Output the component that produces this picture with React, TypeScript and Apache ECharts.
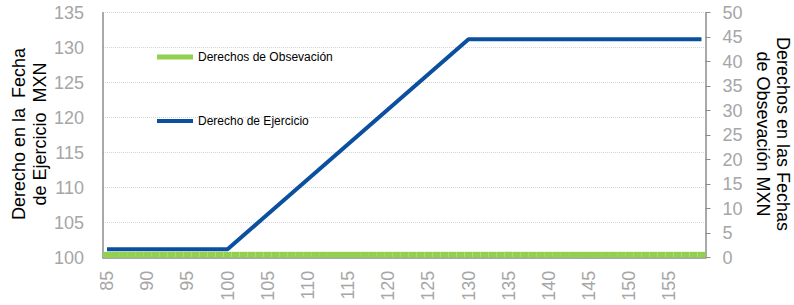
import React, { useEffect, useRef } from "react";
import * as echarts from "echarts";

const categories: string[] = [
  "85", "86", "87", "88", "89", "90", "91", "92", "93", "94",
  "95", "96", "97", "98", "99", "100", "101", "102", "103", "104",
  "105", "106", "107", "108", "109", "110", "111", "112", "113", "114",
  "115", "116", "117", "118", "119", "120", "121", "122", "123", "124",
  "125", "126", "127", "128", "129", "130", "131", "132", "133", "134",
  "135", "136", "137", "138", "139", "140", "141", "142", "143", "144",
  "145", "146", "147", "148", "149", "150", "151", "152", "153", "154",
  "155", "156", "157", "158", "159",
];

const derechoEjercicio: number[] = [
  101.2, 101.2, 101.2, 101.2, 101.2, 101.2, 101.2, 101.2, 101.2, 101.2,
  101.2, 101.2, 101.2, 101.2, 101.2, 101.2, 102.2, 103.2, 104.2, 105.2,
  106.2, 107.2, 108.2, 109.2, 110.2, 111.2, 112.2, 113.2, 114.2, 115.2,
  116.2, 117.2, 118.2, 119.2, 120.2, 121.2, 122.2, 123.2, 124.2, 125.2,
  126.2, 127.2, 128.2, 129.2, 130.2, 131.2, 131.2, 131.2, 131.2, 131.2,
  131.2, 131.2, 131.2, 131.2, 131.2, 131.2, 131.2, 131.2, 131.2, 131.2,
  131.2, 131.2, 131.2, 131.2, 131.2, 131.2, 131.2, 131.2, 131.2, 131.2,
  131.2, 131.2, 131.2, 131.2, 131.2,
];

const derechosObservacion: number[] = [
  1.2, 1.2, 1.2, 1.2, 1.2, 1.2, 1.2, 1.2, 1.2, 1.2,
  1.2, 1.2, 1.2, 1.2, 1.2, 1.2, 1.2, 1.2, 1.2, 1.2,
  1.2, 1.2, 1.2, 1.2, 1.2, 1.2, 1.2, 1.2, 1.2, 1.2,
  1.2, 1.2, 1.2, 1.2, 1.2, 1.2, 1.2, 1.2, 1.2, 1.2,
  1.2, 1.2, 1.2, 1.2, 1.2, 1.2, 1.2, 1.2, 1.2, 1.2,
  1.2, 1.2, 1.2, 1.2, 1.2, 1.2, 1.2, 1.2, 1.2, 1.2,
  1.2, 1.2, 1.2, 1.2, 1.2, 1.2, 1.2, 1.2, 1.2, 1.2,
  1.2, 1.2, 1.2, 1.2, 1.2,
];

const seriesNames = ["Derechos de Obsevación", "Derecho de Ejercicio"];
const leftTitleLines = ["Derecho en la  Fecha", "de Ejercicio  MXN"];
const rightTitleLines = ["Derechos en las Fechas", "de Obsevación MXN"];

const FONT = "Liberation Sans, Arial, sans-serif";
const GREY_TEXT = "#a6a6a6";
const AXIS_GREY = "#8c8c8c";
const BLUE = "#0b4f9f";
const GREEN = "#92d050";

function titleText(text: string, x: number, y: number, rotation: number) {
  return {
    type: "text",
    x,
    y,
    rotation,
    style: {
      text,
      fontSize: 18,
      fontFamily: FONT,
      fill: "#000",
      align: "center",
      verticalAlign: "middle",
    },
  };
}

export default function App() {
  const ref = useRef<HTMLDivElement>(null);

  useEffect(() => {
    document.body.style.margin = "0";
    document.body.style.overflow = "hidden";
    document.documentElement.style.overflow = "hidden";
    if (!ref.current) return;
    const chart = echarts.init(ref.current, null, { renderer: "svg" });
    chart.setOption({
      animation: false,
      backgroundColor: "#ffffff",
      textStyle: { fontFamily: FONT },
      grid: { left: 103, right: 88.5, top: 12.7, bottom: 47.3, containLabel: false },
      legend: [
        {
          data: [{ name: seriesNames[0], icon: "rect" }],
          left: 157,
          top: 51,
          padding: 0,
          itemWidth: 36,
          itemHeight: 5,
          itemGap: 5,
          textStyle: { color: "#000", fontSize: 12, fontFamily: FONT },
          selectedMode: false,
        },
        {
          data: [{ name: seriesNames[1], icon: "rect" }],
          left: 157,
          top: 115,
          padding: 0,
          itemWidth: 36,
          itemHeight: 4,
          textStyle: { color: "#000", fontSize: 12, fontFamily: FONT },
          selectedMode: false,
        },
      ],
      xAxis: {
        type: "category",
        data: categories,
        boundaryGap: true,
        axisLine: { show: true, lineStyle: { color: AXIS_GREY, width: 1.5 } },
        axisTick: { show: false },
        axisLabel: {
          interval: 4,
          rotate: 90,
          color: GREY_TEXT,
          fontSize: 18,
          fontFamily: FONT,
          margin: 13,
        },
        splitLine: { show: false },
      },
      yAxis: [
        {
          type: "value",
          min: 100,
          max: 135,
          interval: 5,
          position: "left",
          axisLine: { show: true, lineStyle: { color: AXIS_GREY, width: 1.5 } },
          axisTick: { show: false },
          axisLabel: { color: GREY_TEXT, fontSize: 18, fontFamily: FONT, margin: 19 },
          splitLine: { show: true, lineStyle: { color: "#d4d4d4", type: "dotted", width: 1 } },
        },
        {
          type: "value",
          min: 0,
          max: 50,
          interval: 5,
          position: "right",
          axisLine: { show: true, lineStyle: { color: AXIS_GREY, width: 1.5 } },
          axisTick: { show: true, inside: false, length: 5, lineStyle: { color: AXIS_GREY } },
          axisLabel: { color: GREY_TEXT, fontSize: 18, fontFamily: FONT, margin: 17 },
          splitLine: { show: false },
        },
      ],
      series: [
        {
          name: seriesNames[0],
          type: "bar",
          yAxisIndex: 1,
          data: derechosObservacion,
          barWidth: "100%",
          barCategoryGap: "0%",
          itemStyle: { color: GREEN },
          z: 1,
        },
        {
          name: seriesNames[1],
          type: "line",
          yAxisIndex: 0,
          data: derechoEjercicio,
          showSymbol: false,
          symbol: "none",
          itemStyle: { color: BLUE },
          lineStyle: { color: BLUE, width: 4 },
          z: 3,
        },
      ],
      graphic: [
        titleText(leftTitleLines[0], 18.5, 134, Math.PI / 2),
        titleText(leftTitleLines[1], 40, 134, Math.PI / 2),
        titleText(rightTitleLines[0], 783, 134, -Math.PI / 2),
        titleText(rightTitleLines[1], 762.5, 134, -Math.PI / 2),
      ],
    });
    return () => chart.dispose();
  }, []);

  return (
    <div
      ref={ref}
      style={{ position: "absolute", left: 0, top: 0, width: 794, height: 305, overflow: "hidden" }}
    />
  );
}
